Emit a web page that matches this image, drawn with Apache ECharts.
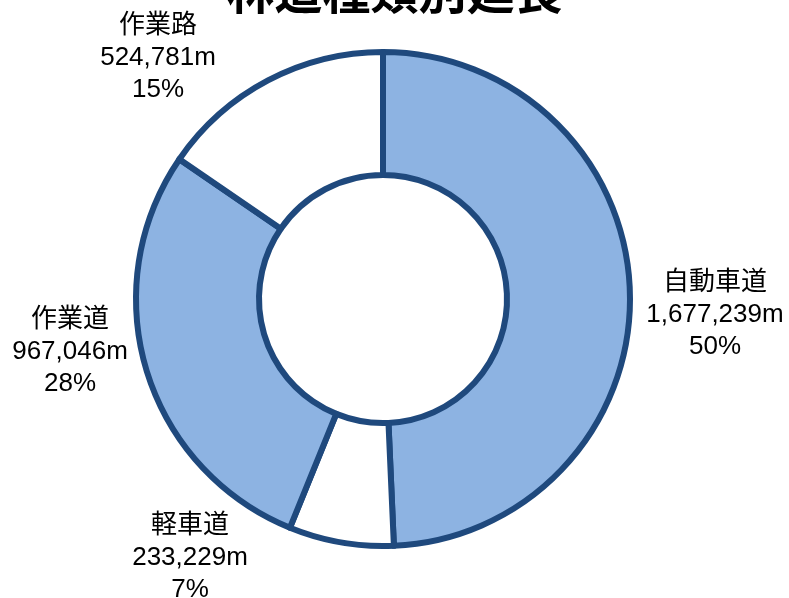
<!DOCTYPE html>
<html>
<head>
<meta charset="utf-8">
<script src="https://cdn.jsdelivr.net/npm/echarts@6/dist/echarts.min.js"></script>
<style>
html,body{margin:0;padding:0;background:#fff;}
#chart{width:789px;height:598px;}
</style>
</head>
<body>
<div id="chart"></div>
<script>
// Data
const titleText = '林道種類別延長';
const categories = ['自動車道', '軽車道', '作業道', '作業路'];
const lengths = [1677239, 233229, 967046, 524781];
const percentLabels = ['50%', '7%', '28%', '15%'];

// Styling / layout (kept separate from data)
const sliceColors = ['#8DB3E2', '#FFFFFF', '#8DB3E2', '#FFFFFF'];
const labelCenters = [[715, 315], [190, 558], [70, 352], [158, 58]];

const chart = echarts.init(document.getElementById('chart'), null, {renderer: 'canvas'});
const fmt = v => v.toLocaleString('en-US');

chart.setOption({
  animation: false,
  backgroundColor: '#fff',
  title: {
    text: titleText,
    left: 'center',
    top: -38,
    textStyle: {
      fontFamily: '"Noto Sans CJK JP", sans-serif',
      fontSize: 48,
      fontWeight: 'bold',
      color: '#000'
    }
  },
  series: [{
    type: 'pie',
    center: [383, 299],
    radius: [124, 247],
    startAngle: 90,
    clockwise: true,
    silent: true,
    emphasis: {disabled: true},
    data: categories.map((c, i) => ({
      name: c,
      value: lengths[i],
      itemStyle: {color: sliceColors[i]}
    })),
    itemStyle: {
      borderColor: '#1F497D',
      borderWidth: 6
    },
    label: {
      show: true,
      position: 'outside',
      overflow: 'none',
      formatter: p => p.name + '\n' + fmt(p.value) + 'm\n' + percentLabels[p.dataIndex],
      fontFamily: '"Liberation Sans", Arial, "Noto Sans CJK JP", sans-serif',
      fontSize: 26,
      lineHeight: 32,
      color: '#000',
      align: 'center'
    },
    labelLine: {show: false},
    labelLayout: p => ({
      x: labelCenters[p.dataIndex][0],
      y: labelCenters[p.dataIndex][1],
      align: 'center',
      verticalAlign: 'middle',
      width: 200
    })
  }]
});
</script>
</body>
</html>
